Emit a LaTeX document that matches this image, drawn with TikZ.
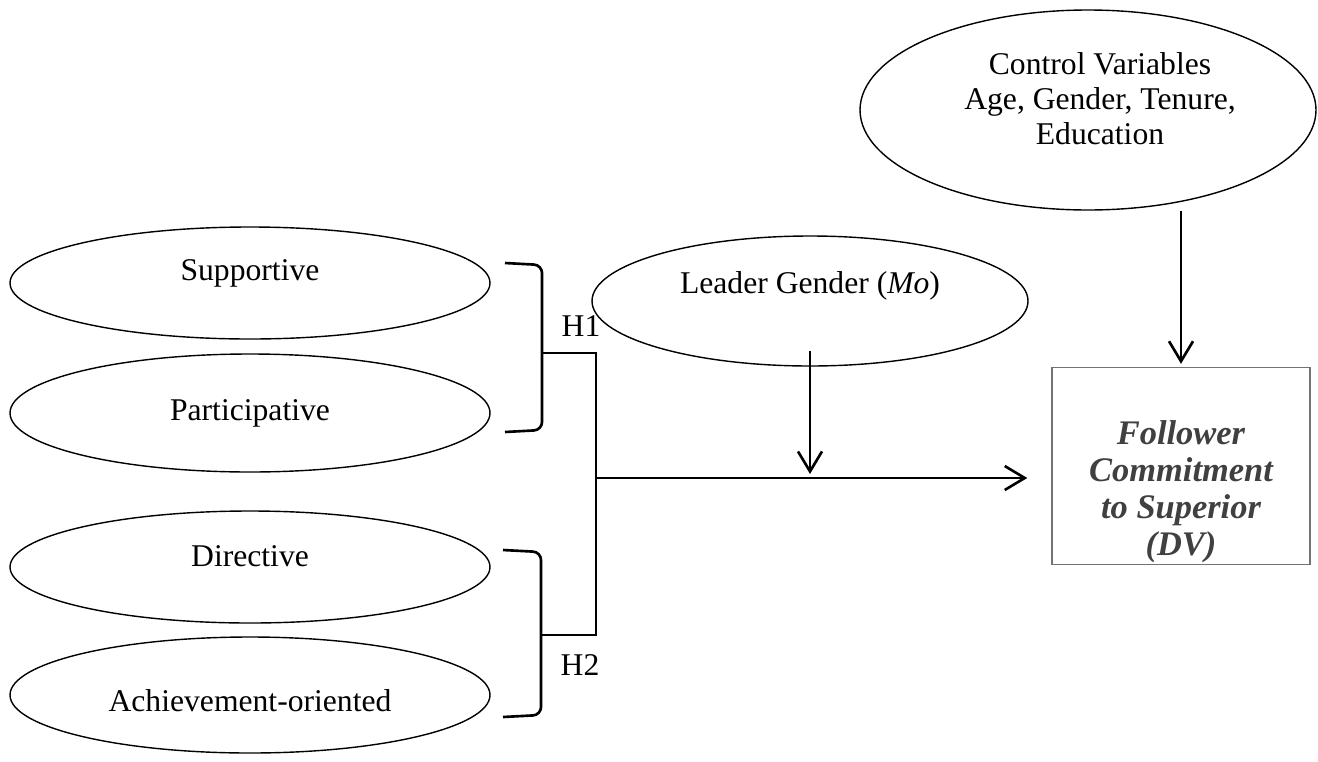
\documentclass[tikz,border=0pt]{standalone}
\usepackage{fontspec}
\setmainfont{Liberation Serif}
\usetikzlibrary{arrows.meta,positioning,shapes.geometric}

\begin{document}
\begin{tikzpicture}[
  x=0.1mm,y=-0.1mm,
  oval/.style={draw,ellipse,line width=0.4pt,inner sep=0pt,minimum width=48mm,minimum height=11.2mm},
  txt/.style={font=\fontsize{9}{10}\selectfont,align=center,inner sep=0pt},
  lnk/.style={line width=0.75pt},
  arr/.style={-{Straight Barb[length=2mm,width=2.4mm]},line width=0.75pt}
]
\useasboundingbox (0,0) rectangle (1318,761);
\node[oval,minimum width=45.6mm,minimum height=20mm,
      label={[txt,yshift=1.1mm,xshift=1.2mm]center:Control Variables\\Age, Gender, Tenure,\\Education}] (ctrl) at (1088,110) {};
\node[oval,label={[txt,yshift=1mm]center:Supportive}] (sup) at (250,283) {};
\node[oval,minimum height=11.8mm,label={[txt]center:Participative}] (par) at (250,413) {};
\node[oval,label={[txt,yshift=1.1mm]center:Directive}] (dir) at (250,567) {};
\node[oval,minimum height=11.6mm,label={[txt,yshift=-0.6mm]center:Achievement-oriented}] (ach) at (250,695) {};
\node[oval,minimum width=43.6mm,minimum height=13mm,
      label={[txt,yshift=1.5mm]center:Leader Gender (\textit{Mo})}] (lead) at (810,301) {};
\node[draw=black!55,line width=0.4pt,minimum width=25.8mm,minimum height=19.7mm,
      label={[txt,font=\fontsize{9.8}{10.5}\selectfont\bfseries\itshape,text=black!75,yshift=-2.6mm]center:Follower\\Commitment\\to Superior\\(DV)}] (dv) at (1181,466) {};
\node[txt] (h1) at (581,326) {H1};
\node[txt] (h2) at (580,665) {H2};
\coordinate (j1) at (542,353);
\coordinate (j2) at (541,635);
\coordinate (jt) at (596,353);
\coordinate (jb) at (596,635);
\coordinate (jm) at (596,478);
\draw[lnk,rounded corners=0.8mm] (505,263) -- (542,265) -- (j1) -- (542,430) -- (505,432);
\draw[lnk,rounded corners=0.8mm] (503,550) -- (541,552) -- (j2) -- (541,715) -- (503,717);
\draw[lnk] (j1) -- (jt) -- (jb) -- (j2);
\draw[arr,shorten >=2.4mm] (jm) -- (jm -| dv.west);
\draw[arr,shorten >=0.4mm] ([yshift=1.6mm]lead.south) -- (lead.south |- jm);
\draw[arr,shorten >=0.3mm] (dv.north |- ctrl.south) -- (dv.north);
\end{tikzpicture}
\end{document}
